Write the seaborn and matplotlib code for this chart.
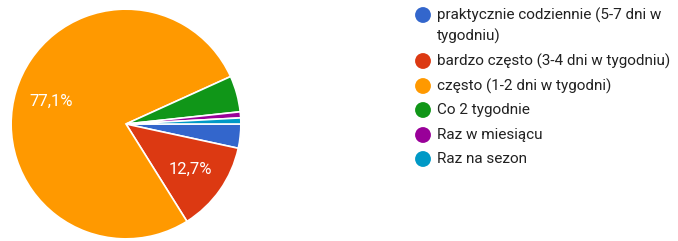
import matplotlib
matplotlib.use("Agg")
import matplotlib.pyplot as plt
import seaborn as sns

sns.set_theme(style="white")
plt.rcParams['font.family'] = ['Roboto', 'DejaVu Sans']

# answers (118 responses)
categories = [
    "praktycznie codziennie (5-7 dni w\ntygodniu)",
    "bardzo często (3-4 dni w tygodniu)",
    "często (1-2 dni w tygodni)",
    "Co 2 tygodnie",
    "Raz w miesiącu",
    "Raz na sezon",
]
counts = [4, 15, 91, 6, 1, 1]
colors = ["#3366cc", "#dc3912", "#ff9900", "#109618", "#990099", "#0099c6"]

W, H = 678, 241
fig = plt.figure(figsize=(W / 100, H / 100), dpi=100)

# pie axes: centre (126,124) px, radius 116 px
cx, cy, r = 126, 124, 116
ax = fig.add_axes([(cx - r) / W, (H - cy - r) / H, 2 * r / W, 2 * r / H])


def pct(p):
    # google only labels the big slices
    if p < 10:
        return ""
    return f"{p:.1f}%".replace(".", ",")


wedges, texts, autotexts = ax.pie(
    counts, colors=colors, startangle=0, counterclock=False,
    autopct=pct, pctdistance=0.68, radius=1,
    wedgeprops=dict(edgecolor="white", linewidth=1.2),
    textprops=dict(color="white", fontsize=12),
)
ax.set_xlim(-1.01, 1.01)
ax.set_ylim(-1.01, 1.01)
ax.set_aspect("equal")
ax.axis("off")

# legend drawn by hand, google forms style
leg = fig.add_axes([0, 0, 1, 1])
leg.set_xlim(0, W)
leg.set_ylim(H, 0)
leg.axis("off")
row_y = [15, 61, 86, 110, 135, 159]
for y, lab, col in zip(row_y, categories, colors):
    leg.scatter([423], [y], s=130, color=col, edgecolor="none")
    for i, line in enumerate(lab.split("\n")):
        leg.text(437, y + 21 * i, line, fontsize=11, color="#222222", va="center")

fig.savefig("out.png", dpi=100)
